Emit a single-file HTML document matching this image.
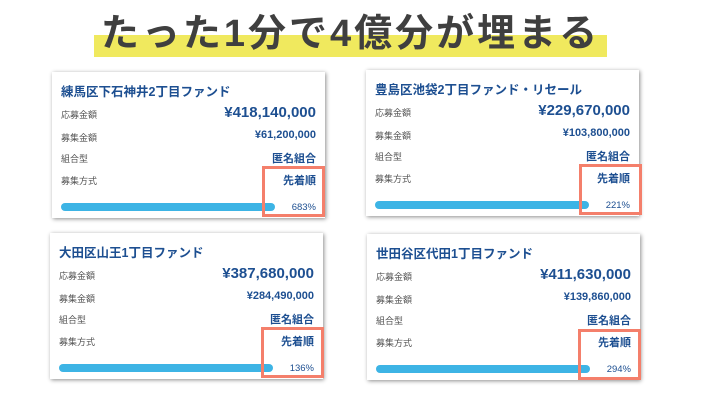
<!DOCTYPE html>
<html><head><meta charset="utf-8"><style>
*{margin:0;padding:0;box-sizing:border-box}
body{width:702px;height:403px;background:#fff;position:relative;overflow:hidden;font-family:"Liberation Sans","Noto Sans CJK JP",sans-serif}
.band{position:absolute;left:94px;top:35px;width:513px;height:22px;background:#f0e95e}
.ttl{position:absolute;left:80px;top:10px;width:541px;text-align:center;font-size:38px;font-weight:bold;color:#3f3f3f;letter-spacing:3px;line-height:48px}
.card{position:absolute;width:273px;height:146px;background:#fff;box-shadow:1px 1px 4px rgba(0,0,0,.45)}
.card .t{position:absolute;left:9px;top:9px;font-size:12.5px;font-weight:bold;color:#1d4f91;white-space:nowrap}
.lb{position:absolute;left:9px;font-size:9px;color:#555}
.v{position:absolute;right:9px;font-size:11px;font-weight:bold;color:#1d4f91;white-space:nowrap}
.big{font-size:15px}
.bar{position:absolute;left:9px;top:131px;width:214px;height:8px;border-radius:4px;background:#3db4e5}
.pc{position:absolute;right:9px;top:130px;font-size:9.5px;color:#1d4f91}
.red{position:absolute;width:63px;height:51px;border:3px solid #f47f6b}
</style></head><body>
<div class="band"></div>
<div class="ttl">たった1分で4億分が埋まる</div>

<div class="card" style="left:52px;top:72px">
<div class="t">練馬区下石神井2丁目ファンド</div>
<div class="lb" style="top:36px">応募金額</div><div class="v big" style="top:32px">¥418,140,000</div>
<div class="lb" style="top:59px">募集金額</div><div class="v" style="top:57px">¥61,200,000</div>
<div class="lb" style="top:80px">組合型</div><div class="v" style="top:78px">匿名組合</div>
<div class="lb" style="top:102px">募集方式</div><div class="v" style="top:100px">先着順</div>
<div class="bar"></div><div class="pc">683%</div>
</div>

<div class="card" style="left:366px;top:70px">
<div class="t">豊島区池袋2丁目ファンド・リセール</div>
<div class="lb" style="top:36px">応募金額</div><div class="v big" style="top:32px">¥229,670,000</div>
<div class="lb" style="top:59px">募集金額</div><div class="v" style="top:57px">¥103,800,000</div>
<div class="lb" style="top:80px">組合型</div><div class="v" style="top:78px">匿名組合</div>
<div class="lb" style="top:102px">募集方式</div><div class="v" style="top:100px">先着順</div>
<div class="bar"></div><div class="pc">221%</div>
</div>

<div class="card" style="left:50px;top:233px">
<div class="t">大田区山王1丁目ファンド</div>
<div class="lb" style="top:36px">応募金額</div><div class="v big" style="top:32px">¥387,680,000</div>
<div class="lb" style="top:59px">募集金額</div><div class="v" style="top:57px">¥284,490,000</div>
<div class="lb" style="top:80px">組合型</div><div class="v" style="top:78px">匿名組合</div>
<div class="lb" style="top:102px">募集方式</div><div class="v" style="top:100px">先着順</div>
<div class="bar"></div><div class="pc">136%</div>
</div>

<div class="card" style="left:367px;top:234px">
<div class="t">世田谷区代田1丁目ファンド</div>
<div class="lb" style="top:36px">応募金額</div><div class="v big" style="top:32px">¥411,630,000</div>
<div class="lb" style="top:59px">募集金額</div><div class="v" style="top:57px">¥139,860,000</div>
<div class="lb" style="top:80px">組合型</div><div class="v" style="top:78px">匿名組合</div>
<div class="lb" style="top:102px">募集方式</div><div class="v" style="top:100px">先着順</div>
<div class="bar"></div><div class="pc">294%</div>
</div>

<div class="red" style="left:262px;top:166px"></div>
<div class="red" style="left:579px;top:164px"></div>
<div class="red" style="left:261px;top:327px"></div>
<div class="red" style="left:578px;top:329px"></div>
</body></html>
